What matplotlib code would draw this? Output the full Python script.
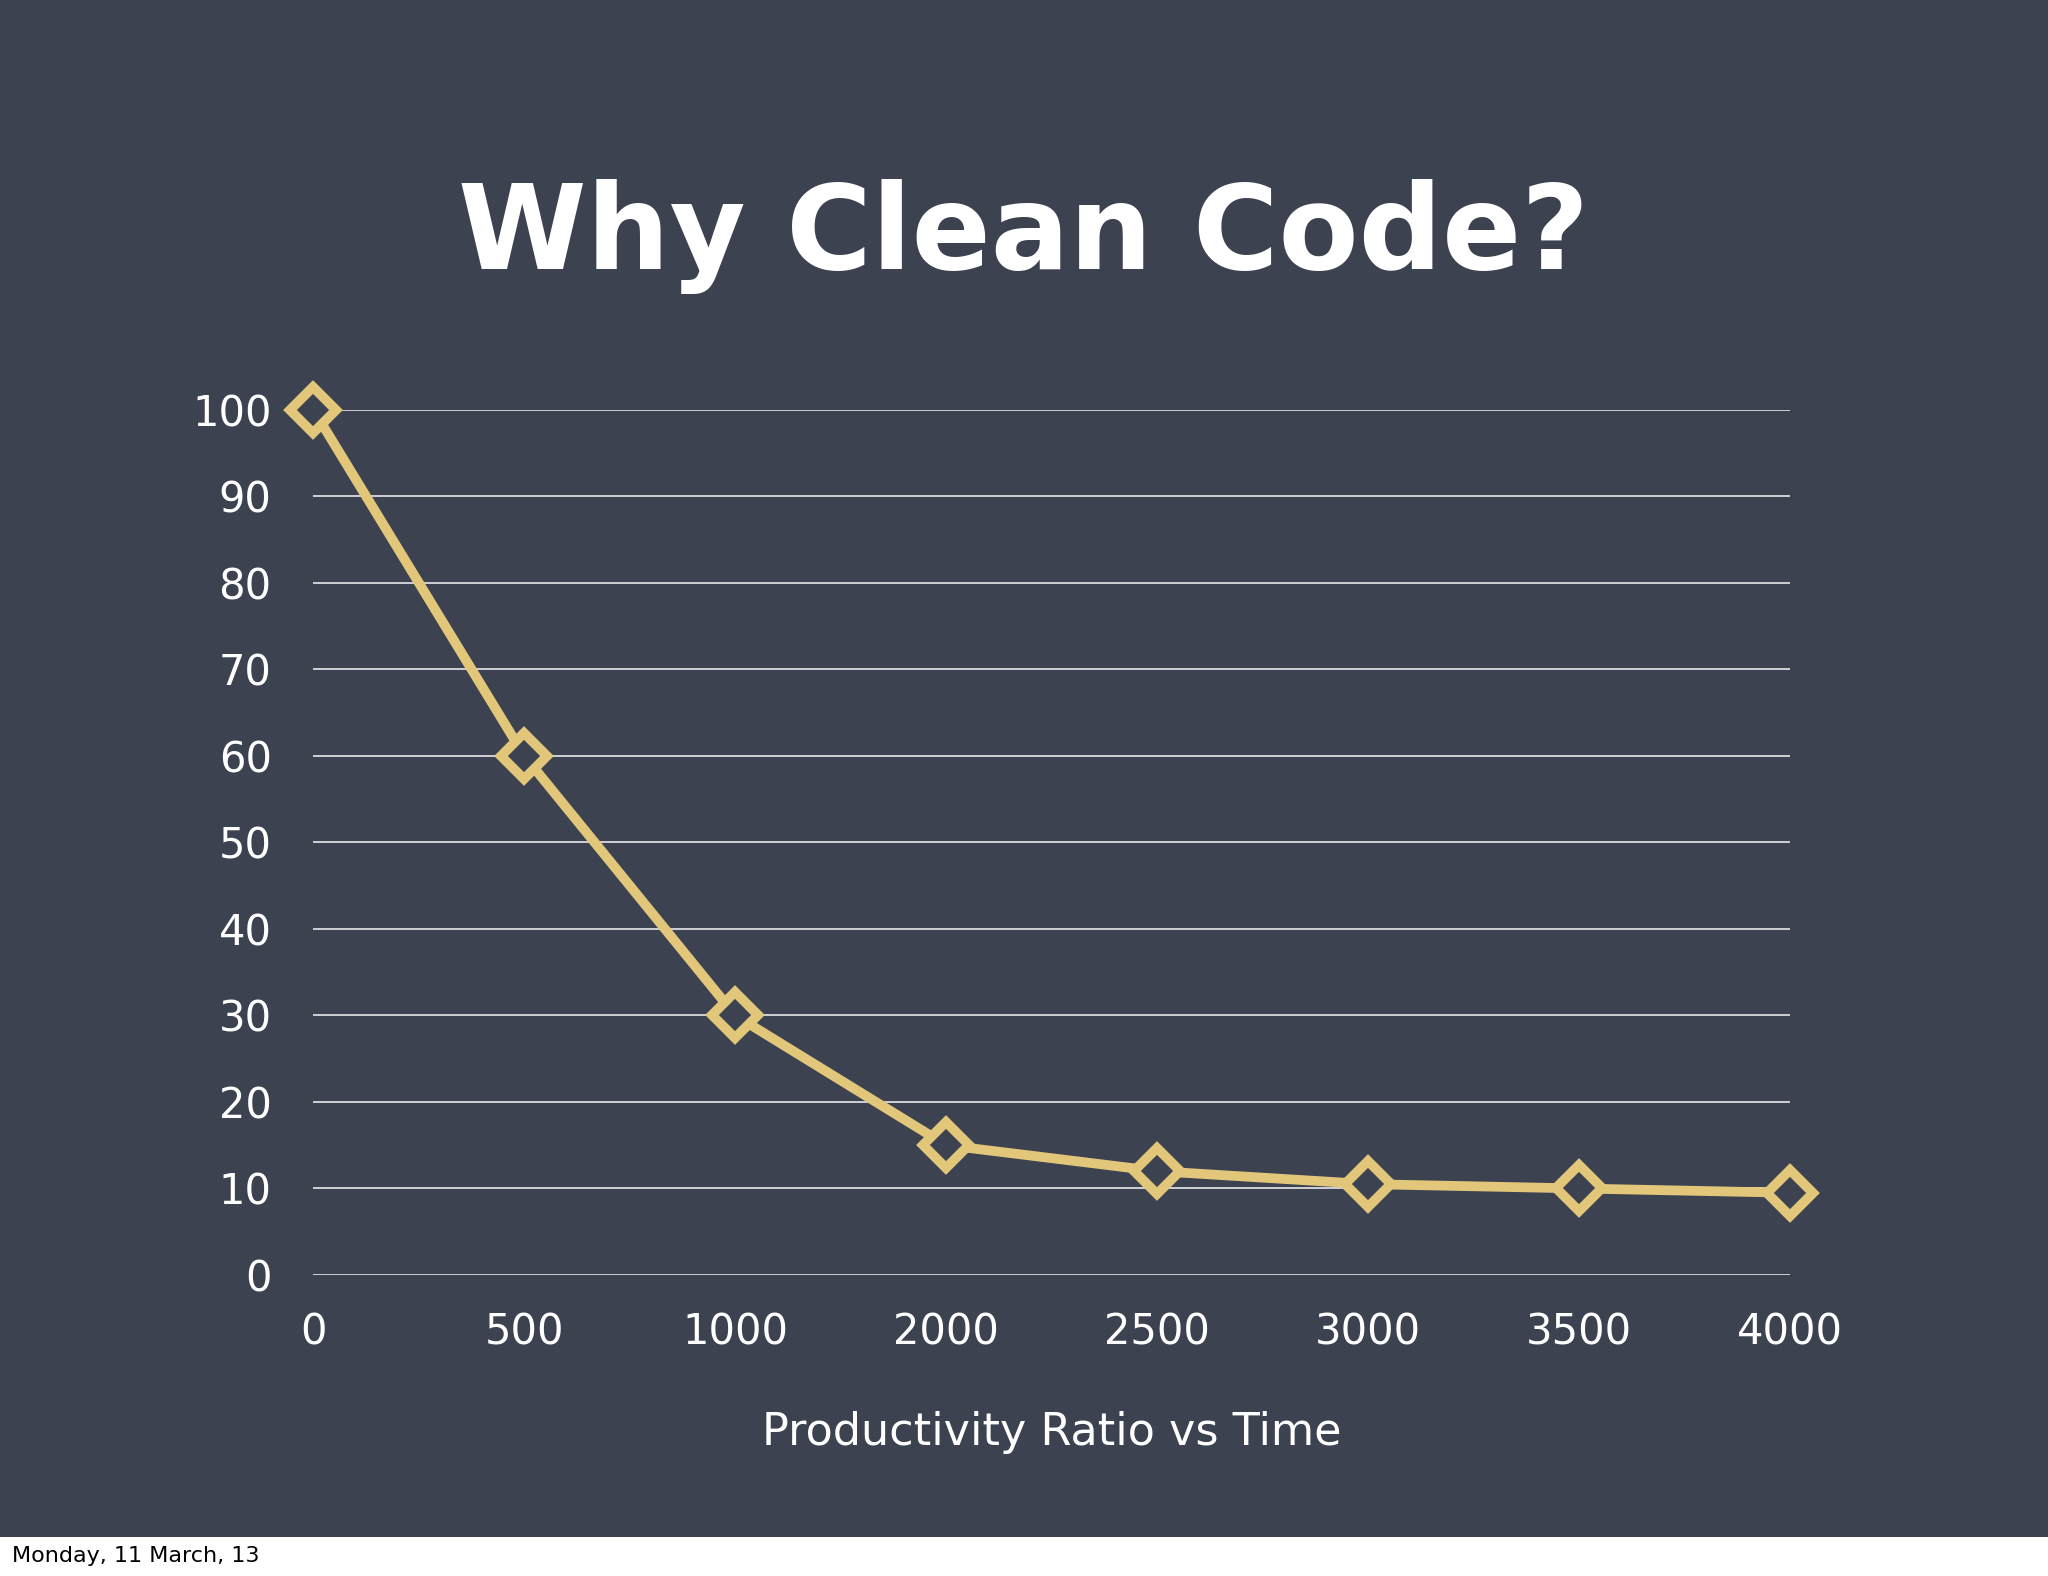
import matplotlib.pyplot as plt

x_labels = ['0', '500', '1000', '2000', '2500', '3000', '3500', '4000']
productivity = [100, 60, 30, 15, 12, 10.5, 10, 9.5]
y_ticks = [0, 10, 20, 30, 40, 50, 60, 70, 80, 90, 100]

fig = plt.figure(figsize=(20.48, 15.76), dpi=100)
fig.patch.set_facecolor('white')

# chalkboard background
bg = fig.add_axes([0, 0.0249, 1, 0.9751])
bg.set_facecolor('#3d4250')
bg.set_xticks([])
bg.set_yticks([])
for s in bg.spines.values():
    s.set_visible(False)

ax = fig.add_axes([0.153, 0.191, 0.721, 0.549])
ax.patch.set_alpha(0)
xs = list(range(len(x_labels)))
for t in y_ticks:
    ax.axhline(t, color='#e8e8ec', linewidth=1.2, zorder=1)
ax.plot(xs, productivity, color='#e2c77b', linewidth=7, zorder=3, clip_on=False,
        marker='D', markersize=23, markerfacecolor='#3d4250',
        markeredgecolor='#e2c77b', markeredgewidth=7)
ax.set_xlim(0, len(x_labels) - 1)
ax.set_ylim(0, 100)
ax.set_xticks(xs)
ax.set_xticklabels(x_labels)
ax.set_yticks(y_ticks)
ax.tick_params(colors='white', labelsize=30, length=0, pad=26)
ax.tick_params(axis='y', pad=30)
for s in ax.spines.values():
    s.set_visible(False)
ax.set_xlabel('Productivity Ratio vs Time', color='white', fontsize=32, labelpad=42)

fig.text(0.5, 0.85, 'Why Clean Code?', color='white', fontsize=84,
         fontweight='semibold', ha='center', va='center')
fig.text(0.006, 0.0125, 'Monday, 11 March, 13', color='black', fontsize=16, va='center')

plt.savefig('out.png', dpi=100)
plt.close()
